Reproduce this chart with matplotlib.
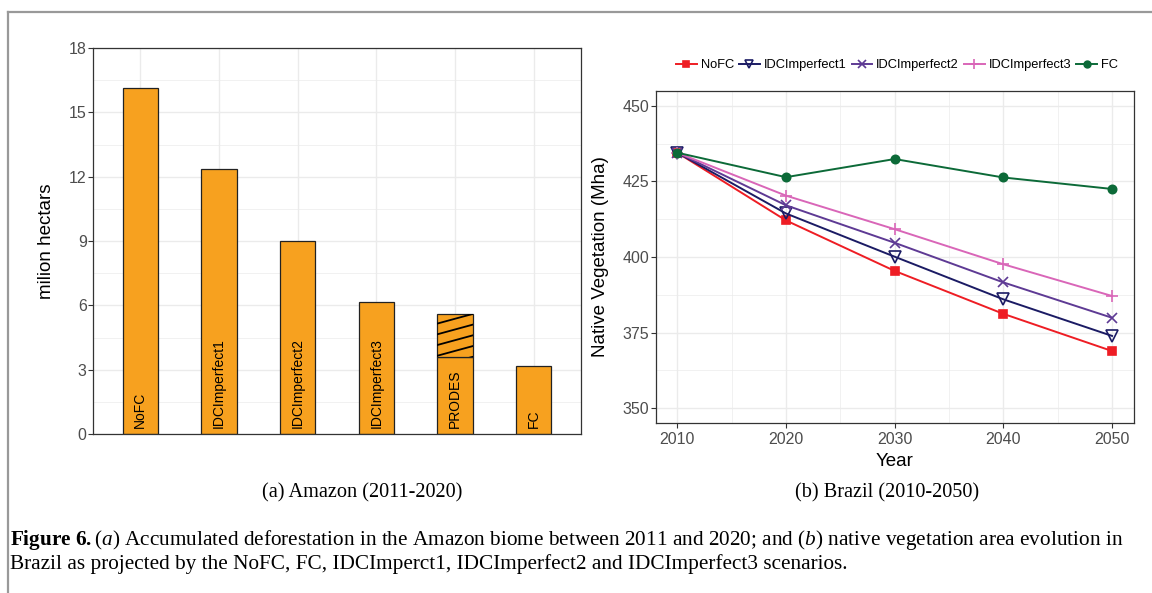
import numpy as np
import matplotlib
matplotlib.use("Agg")
import matplotlib.pyplot as plt
from matplotlib.lines import Line2D

# ------------------------------------------------------------
# data
# ------------------------------------------------------------
bar_labels = ["NoFC", "IDCImperfect1", "IDCImperfect2", "IDCImperfect3", "PRODES", "FC"]
bar_values = [16.12, 12.34, 8.99, 6.17, 3.61, 3.17]
prodes_extra = 1.99          # striped part stacked on top of PRODES

years = [2010, 2020, 2030, 2040, 2050]
nofc = [434.5, 412.1, 395.4, 381.2, 368.9]
idc1 = [434.5, 414.4, 400.1, 386.0, 373.9]
idc2 = [434.5, 417.1, 404.7, 391.6, 379.9]
idc3 = [434.5, 420.3, 409.2, 397.6, 387.1]
fc = [434.5, 426.4, 432.4, 426.3, 422.5]

series_names = ["NoFC", "IDCImperfect1", "IDCImperfect2", "IDCImperfect3", "FC"]

# ------------------------------------------------------------
# style
# ------------------------------------------------------------
plt.rcParams["font.family"] = ["Liberation Sans", "DejaVu Sans"]
plt.rcParams["mathtext.fontset"] = "custom"
plt.rcParams["mathtext.rm"] = "Liberation Serif"
plt.rcParams["mathtext.it"] = "Liberation Serif:italic"
plt.rcParams["mathtext.bf"] = "Liberation Serif:bold"

ORANGE = "#F7A11F"
GRID = "#EBEBEB"
TICKC = "#4D4D4D"
colors = ["#EE1D24", "#1B1B64", "#5E3A94", "#D966B8", "#0C6A38"]
markers = ["s", "v", "x", "+", "o"]
mfaces = [colors[0], "none", colors[2], colors[3], colors[4]]
msizes = [6, 8, 7, 9, 6]


def style_axes(ax):
    ax.set_facecolor("white")
    for s in ax.spines.values():
        s.set_color("#333333")
        s.set_linewidth(0.9)
    ax.tick_params(axis="both", which="major", colors="#333333", labelcolor=TICKC,
                   labelsize=11.5, length=3.5, width=0.8, pad=3)
    ax.tick_params(axis="y", which="major", pad=1)
    ax.tick_params(axis="both", which="minor", length=0)
    ax.grid(True, which="major", color=GRID, linewidth=1.0)
    ax.grid(True, which="minor", color=GRID, linewidth=0.5)
    ax.set_axisbelow(True)


fig = plt.figure(figsize=(11.52, 5.93), dpi=100)

# ------------------------------------------------------------
# (a) bar chart
# ------------------------------------------------------------
ax1 = fig.add_axes([93 / 1152, 1 - 434 / 593, 488 / 1152, 386 / 593])
style_axes(ax1)
xpos = np.arange(1, len(bar_labels) + 1)
width = 0.45
bars = ax1.bar(xpos, bar_values, width=width, color=ORANGE, edgecolor="#222222",
               linewidth=0.9, zorder=2)

# striped top part of PRODES
i_p = bar_labels.index("PRODES")
top = ax1.bar(xpos[i_p], prodes_extra, bottom=bar_values[i_p], width=width,
              color=ORANGE, edgecolor="#222222", linewidth=0.9, zorder=2)[0]
x0 = xpos[i_p] - width / 2
x1 = xpos[i_p] + width / 2
y0 = bar_values[i_p]
for k in range(-1, 6):
    yl = y0 + 0.04 + k * 0.5
    ln = ax1.plot([x0, x1], [yl, yl + 0.45], color="black", linewidth=1.3, zorder=3)[0]
    ln.set_clip_path(top)

for x, lab in zip(xpos, bar_labels):
    ax1.text(x, 0.28, lab, rotation=90, ha="center", va="bottom", fontsize=10,
             color="black", zorder=4)

ax1.set_xlim(0.4, len(bar_labels) + 0.6)
ax1.set_ylim(0, 18)
ax1.set_yticks(np.arange(0, 19, 3))
ax1.set_yticks(np.arange(1.5, 18, 3), minor=True)
ax1.set_xticks(xpos)
ax1.set_xticklabels([])
ax1.tick_params(axis="x", which="major", length=0)
ax1.set_ylabel("milion hectars", fontsize=13.5, labelpad=10)

# ------------------------------------------------------------
# (b) line chart
# ------------------------------------------------------------
ax2 = fig.add_axes([655.5 / 1152, 1 - 423.3 / 593, 478.3 / 1152, 332.6 / 593])
style_axes(ax2)
handles = []
for vals, name, c, m, mf, ms in zip([nofc, idc1, idc2, idc3, fc], series_names,
                                    colors, markers, mfaces, msizes):
    h, = ax2.plot(years, vals, color=c, linewidth=1.4, marker=m, markersize=ms,
                  markerfacecolor=mf, markeredgecolor=c, markeredgewidth=1.2,
                  label=name, zorder=3)
    handles.append(h)

ax2.set_xlim(2008, 2052)
ax2.set_ylim(345, 455)
ax2.set_xticks(years)
ax2.set_xticks([2015, 2025, 2035, 2045], minor=True)
ax2.set_yticks([350, 375, 400, 425, 450])
ax2.set_yticks([362.5, 387.5, 412.5, 437.5], minor=True)
ax2.set_xlabel("Year", fontsize=13.5, labelpad=4)
ax2.set_ylabel("Native Vegetation (Mha)", fontsize=13.5, labelpad=10)

fig.legend(handles=handles, loc="center", bbox_to_anchor=(897 / 1152, 1 - 65 / 593),
           ncol=5, frameon=False, fontsize=9.3, handlelength=1.6,
           handletextpad=0.3, columnspacing=0.4, markerscale=0.8)

# ------------------------------------------------------------
# captions and frame
# ------------------------------------------------------------
fig.text(362 / 1152, 1 - 493 / 593, "(a) Amazon (2011-2020)", ha="center", va="center",
         fontsize=14.6, family="Liberation Serif")
fig.text(887 / 1152, 1 - 493 / 593, "(b) Brazil (2010-2050)", ha="center", va="center",
         fontsize=14.6, family="Liberation Serif")

cap1 = (r"$\mathbf{Figure\ 6.}$($\it{a}$) Accumulated deforestation in the Amazon biome "
        r"between 2011 and 2020; and ($\it{b}$) native vegetation area evolution in")
cap2 = ("Brazil as projected by the NoFC, FC, IDCImperct1, IDCImperfect2 and "
        "IDCImperfect3 scenarios.")
fig.text(10 / 1152, 1 - 540 / 593, cap1, ha="left", va="center", fontsize=15.3,
         family="Liberation Serif")
fig.text(10 / 1152, 1 - 564 / 593, cap2, ha="left", va="center", fontsize=15.3,
         family="Liberation Serif")

fig.add_artist(Line2D([7.5 / 1152, 7.5 / 1152], [0, 1 - 12 / 593],
                      transform=fig.transFigure, color="#999999", linewidth=1.6))
fig.add_artist(Line2D([7.5 / 1152, 1], [1 - 12 / 593, 1 - 12 / 593],
                      transform=fig.transFigure, color="#999999", linewidth=1.6))

fig.savefig("out.png", dpi=100)
